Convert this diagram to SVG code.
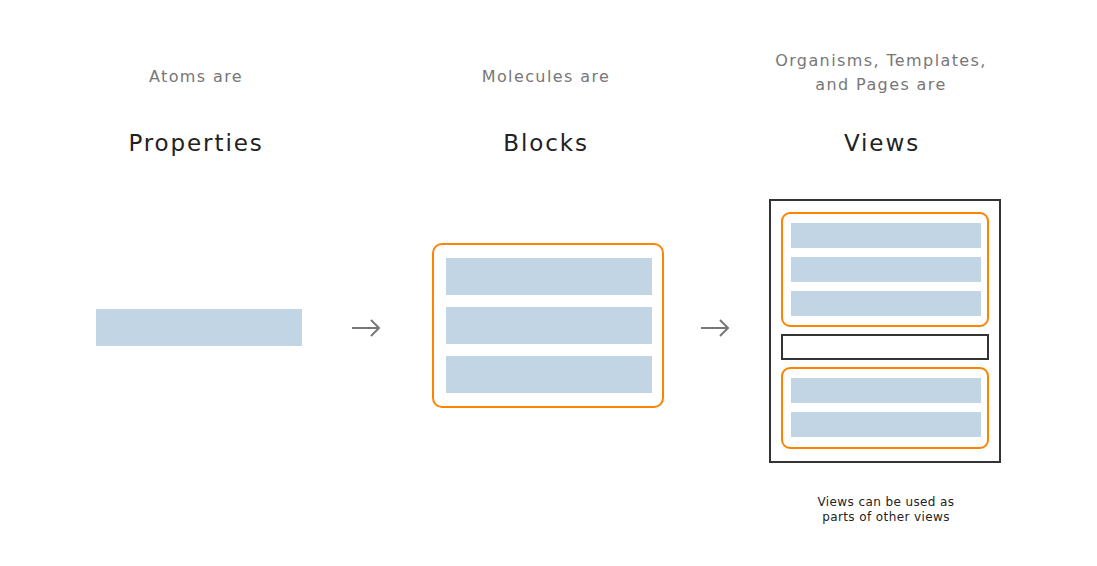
<svg xmlns="http://www.w3.org/2000/svg" width="1097" height="566" viewBox="0 0 1097 566">
<style>
.sub{font-family:"DejaVu Sans","Noto Sans",sans-serif;font-size:16px;letter-spacing:1.4px;fill:#777;text-anchor:middle}
.title{font-family:"DejaVu Sans","Noto Sans",sans-serif;font-size:23px;letter-spacing:1.9px;fill:#222;text-anchor:middle}
.note{font-family:"DejaVu Sans","Noto Sans",sans-serif;font-size:12px;letter-spacing:0.4px;fill:#222;text-anchor:middle}
.bar{fill:#c1d5e5}
.org{fill:none;stroke:#ff8300;stroke-width:2}
.frame{fill:none;stroke:#333;stroke-width:2}
.arrow{fill:none;stroke:#777;stroke-width:2}
</style>
<rect width="1097" height="566" fill="#fff"/>
<g id="atoms">
<text class="sub" x="196" y="82">Atoms are</text>
<text class="title" x="196" y="151">Properties</text>
<rect class="bar" x="96" y="309" width="206" height="37"/>
</g>
<g id="molecules">
<text class="sub" x="546" y="82">Molecules are</text>
<text class="title" x="546" y="151">Blocks</text>
<rect class="org" x="433" y="244" width="230" height="163" rx="9"/>
<rect class="bar" x="446" y="258" width="206" height="37"/>
<rect class="bar" x="446" y="307" width="206" height="37"/>
<rect class="bar" x="446" y="356" width="206" height="37"/>
</g>
<g id="views">
<text class="sub" x="881" y="66">Organisms, Templates,</text>
<text class="sub" x="881" y="90">and Pages are</text>
<text class="title" x="882" y="151">Views</text>
<rect class="frame" x="770" y="200" width="230" height="262"/>
<rect class="org" x="782" y="213" width="206" height="113" rx="8"/>
<rect class="bar" x="791" y="223" width="190" height="25"/>
<rect class="bar" x="791" y="257" width="190" height="25"/>
<rect class="bar" x="791" y="291" width="190" height="25"/>
<rect class="frame" x="782" y="335" width="206" height="24"/>
<rect class="org" x="782" y="368" width="206" height="80" rx="8"/>
<rect class="bar" x="791" y="378" width="190" height="25"/>
<rect class="bar" x="791" y="412" width="190" height="25"/>
<text class="note" x="886" y="506">Views can be used as</text>
<text class="note" x="886" y="521">parts of other views</text>
</g>
<g id="connectors">
<path class="arrow" d="M352 328H379M371 320L379 328L371 336"/>
<path class="arrow" d="M701 328H728M720 320L728 328L720 336"/>
</g>
</svg>
